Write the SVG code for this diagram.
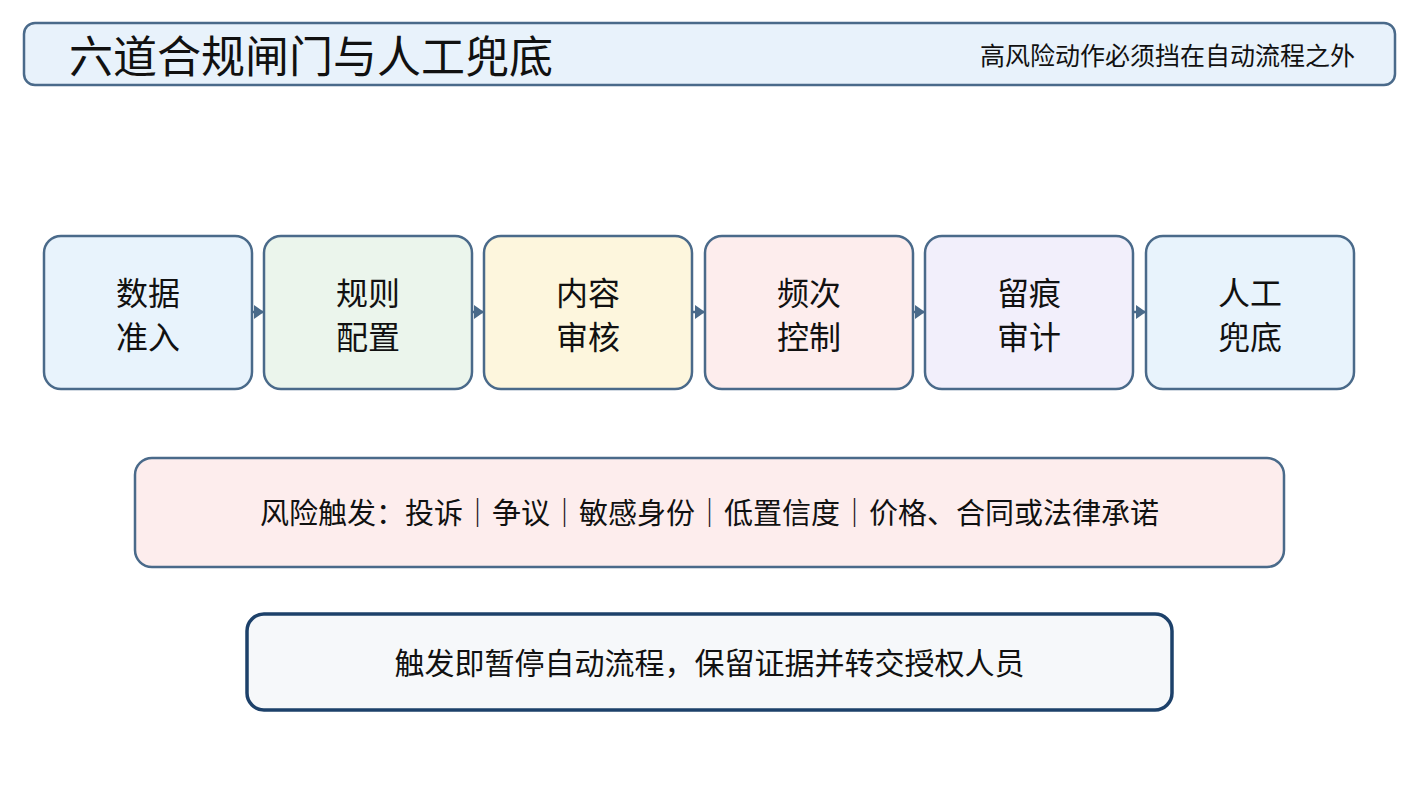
<svg xmlns="http://www.w3.org/2000/svg" width="1419" height="794" viewBox="0 0 1419 794">
<defs>
<marker id="arr" viewBox="0 0 10 14" refX="10" refY="7" markerWidth="10" markerHeight="14" markerUnits="userSpaceOnUse" orient="auto">
<path d="M0,0 L10,7 L0,14 Z" fill="#4a6a8a"/>
</marker>
<style>
text{font-family:"Noto Sans CJK SC","Noto Sans",sans-serif;fill:#111;}
.box{stroke:#4a6a8a;stroke-width:2.5;}
.node{font-size:32px;text-anchor:middle;}
.conn{stroke:#4a6a8a;stroke-width:2.5;fill:none;}
</style>
</defs>
<rect width="1419" height="794" fill="#ffffff"/>
<g id="header">
<rect class="box" x="24" y="23" width="1371" height="62" rx="11" fill="#e8f2fb"/>
<text x="69" y="73" font-size="44">六道合规闸门与人工兜底</text>
<text x="1355" y="65" font-size="25" text-anchor="end">高风险动作必须挡在自动流程之外</text>
</g>
<g id="connectors">
<line class="conn" x1="252" y1="312" x2="264" y2="312" marker-end="url(#arr)"/>
<line class="conn" x1="472" y1="312" x2="484" y2="312" marker-end="url(#arr)"/>
<line class="conn" x1="692" y1="312" x2="705" y2="312" marker-end="url(#arr)"/>
<line class="conn" x1="913" y1="312" x2="925" y2="312" marker-end="url(#arr)"/>
<line class="conn" x1="1133" y1="312" x2="1146" y2="312" marker-end="url(#arr)"/>
</g>
<g id="n1">
<rect class="box" x="44" y="236" width="208" height="153" rx="17" fill="#e8f3fc"/>
<text class="node" x="148" y="305">数据</text>
<text class="node" x="148" y="349">准入</text>
</g>
<g id="n2">
<rect class="box" x="264" y="236" width="208" height="153" rx="17" fill="#ebf5ec"/>
<text class="node" x="368" y="305">规则</text>
<text class="node" x="368" y="349">配置</text>
</g>
<g id="n3">
<rect class="box" x="484" y="236" width="208" height="153" rx="17" fill="#fdf6dd"/>
<text class="node" x="588" y="305">内容</text>
<text class="node" x="588" y="349">审核</text>
</g>
<g id="n4">
<rect class="box" x="705" y="236" width="208" height="153" rx="17" fill="#fdeded"/>
<text class="node" x="809" y="305">频次</text>
<text class="node" x="809" y="349">控制</text>
</g>
<g id="n5">
<rect class="box" x="925" y="236" width="208" height="153" rx="17" fill="#f2effb"/>
<text class="node" x="1029" y="305">留痕</text>
<text class="node" x="1029" y="349">审计</text>
</g>
<g id="n6">
<rect class="box" x="1146" y="236" width="208" height="153" rx="17" fill="#e8f3fc"/>
<text class="node" x="1250" y="305">人工</text>
<text class="node" x="1250" y="349">兜底</text>
</g>
<g id="risk">
<rect class="box" x="135" y="458" width="1149" height="109" rx="17" fill="#fdeded"/>
<text x="709.5" y="524" font-size="29" text-anchor="middle">风险触发：投诉｜争议｜敏感身份｜低置信度｜价格、合同或法律承诺</text>
</g>
<g id="fallback">
<rect x="247" y="614" width="925" height="96" rx="17" fill="#f6f8fa" stroke="#1d416a" stroke-width="3.5"/>
<text x="709.5" y="674" font-size="30" text-anchor="middle">触发即暂停自动流程，保留证据并转交授权人员</text>
</g>
</svg>
